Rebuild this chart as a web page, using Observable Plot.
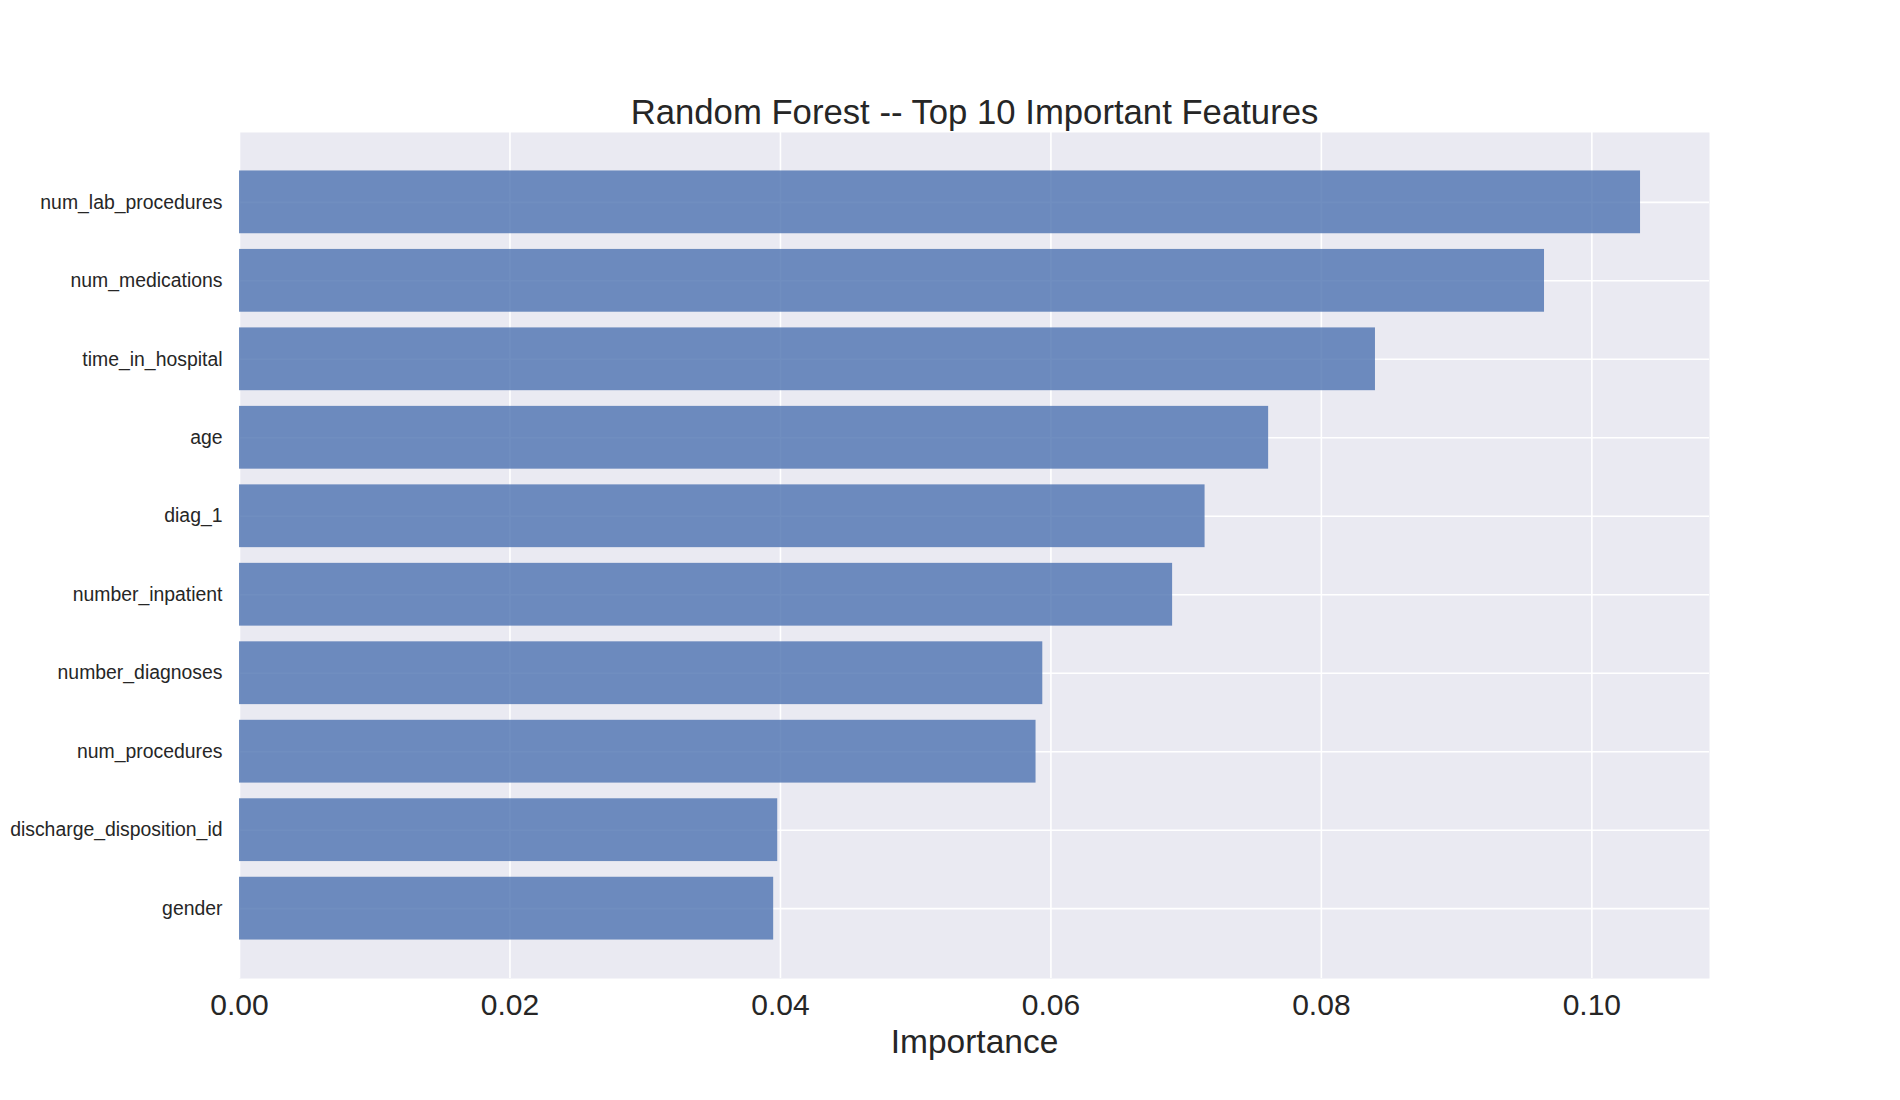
<!DOCTYPE html>
<html>
<head>
<meta charset="utf-8">
<script src="https://cdn.jsdelivr.net/npm/d3@7"></script>
<script src="https://cdn.jsdelivr.net/npm/@observablehq/plot@0.6"></script>
<style>
  html, body { margin: 0; padding: 0; background: #ffffff; }
  #chart { width: 1900px; height: 1100px; }
</style>
</head>
<body>
<div id="chart"></div>
<script>
const titleText = "Random Forest -- Top 10 Important Features";
const xLabel = "Importance";
const features = [
  "num_lab_procedures",
  "num_medications",
  "time_in_hospital",
  "age",
  "diag_1",
  "number_inpatient",
  "number_diagnoses",
  "num_procedures",
  "discharge_disposition_id",
  "gender"
];
const importances = [0.1036, 0.0965, 0.0840, 0.0761, 0.0714, 0.0690, 0.0594, 0.0589, 0.0398, 0.0395];
const xTicks = [0.00, 0.02, 0.04, 0.06, 0.08, 0.10];

const data = features.map((f, i) => ({feature: f, importance: importances[i]}));

const chart = Plot.plot({
  width: 1900,
  height: 1100,
  marginLeft: 239,
  marginRight: 191,
  marginTop: 132,
  marginBottom: 122,
  style: {fontFamily: "'Liberation Sans', Arial, sans-serif", background: "#ffffff", color: "#262626"},
  x: {domain: [0, 0.1087]},
  y: {domain: features, paddingInner: 0.2, paddingOuter: 0.49, round: false},
  marks: [
    Plot.frame({fill: "#EAEAF2", stroke: "none"}),
    Plot.gridX(xTicks, {stroke: "#ffffff", strokeOpacity: 1, strokeWidth: 1.6}),
    Plot.gridY({stroke: "#ffffff", strokeOpacity: 1, strokeWidth: 1.6}),
    Plot.barX(data, {x: "importance", y: "feature", fill: "#4C72B0", fillOpacity: 0.8}),
    Plot.axisX(xTicks, {tickSize: 0, tickPadding: 15, fontSize: 30, label: null, tickFormat: d3.format(".2f"), fill: "#262626"}),
    Plot.axisY({tickSize: 0, tickPadding: 17, fontSize: 19.4, label: null, fill: "#262626"}),
    Plot.text([titleText], {frameAnchor: "top", lineAnchor: "middle", dy: -20, fontSize: 34.7, fill: "#262626"}),
    Plot.text([xLabel], {frameAnchor: "bottom", lineAnchor: "middle", dy: 64, fontSize: 33.5, fill: "#262626"})
  ]
});
document.getElementById("chart").appendChild(chart);
</script>
</body>
</html>
